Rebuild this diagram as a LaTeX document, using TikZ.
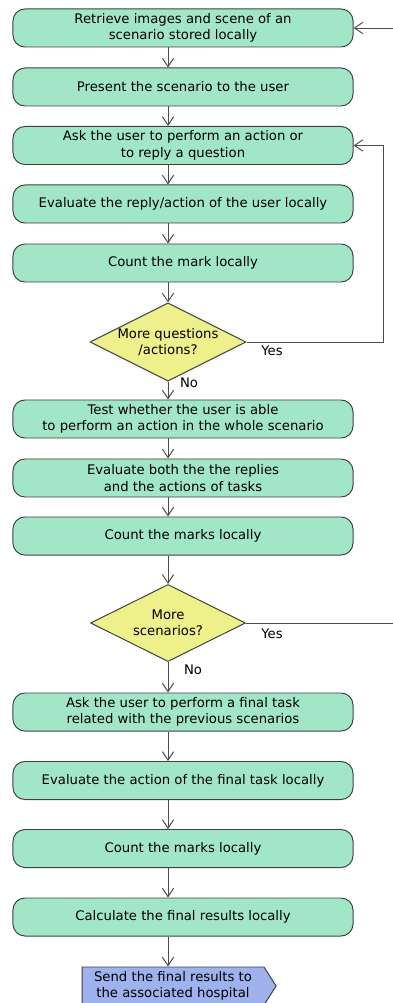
\documentclass[tikz,border=0pt]{standalone}
\usepackage{fontspec}
\setmainfont{DejaVu Sans}
\usetikzlibrary{shapes.geometric,shapes.symbols,arrows.meta}

\definecolor{activity}{RGB}{162,230,200}
\definecolor{question}{RGB}{238,240,140}
\definecolor{message}{RGB}{160,178,238}

\begin{document}
\begin{tikzpicture}[
    x=0.025cm, y=-0.025cm,
    font=\fontsize{9.4}{11.6}\selectfont,
    process/.style={rectangle, rounded corners=0.3cm, draw=black!75, fill=activity, line width=0.7pt, minimum width=8.5cm, minimum height=0.95cm, align=center, inner sep=1pt},
    decision/.style={diamond, draw=black!75, fill=question, line width=0.7pt, minimum width=3.875cm, minimum height=1.925cm, aspect=2, inner sep=0pt, align=center},
    sendbox/.style={signal, signal to=east, signal pointer angle=115, draw=black!75, fill=message, line width=0.7pt, minimum width=4.85cm, minimum height=0.95cm, align=center, inner sep=1pt},
    flow/.style={draw=black!70, line width=0.7pt, -{Straight Barb[length=6pt,width=8pt]}},
    branch/.style={inner sep=1pt}
]
\useasboundingbox (0,0) rectangle (393,1003);

% Scenario part
\node[process] (b1) at (183,28) {Retrieve images and scene of an\\scenario stored locally};
\node[process] (b2) at (183,87) {Present the scenario to the user};
\node[process] (b3) at (183,145.5) {Ask the user to perform an action or\\to reply a question};
\node[process] (b4) at (183,204) {Evaluate the reply/action of the user locally};
\node[process] (b5) at (183,263) {Count the mark locally};
\node[decision] (d1) at (168,342) {More questions\\/actions?};
\node[process] (b6) at (183,419) {Test whether the user is able\\to perform an action in the whole scenario};
\node[process] (b7) at (183,478) {Evaluate both the the replies\\and the actions of tasks};
\node[process] (b8) at (183,536) {Count the marks locally};
\node[decision] (d2) at (168,623) {More\\scenarios?};

% Final task part
\node[process] (b9) at (183,712) {Ask the user to perform a final task\\related with the previous scenarios};
\node[process] (b10) at (183,780.5) {Evaluate the action of the final task locally};
\node[process] (b11) at (183,848.5) {Count the marks locally};
\node[process] (b12) at (183,917) {Calculate the final results locally};
\node[sendbox] (send) at (173,986) {Send the final results to\\the associated hospital};

% Branch labels
\node[branch] (yes1) at (272,351) {Yes};
\node[branch] (no1) at (189,383) {No};
\node[branch] (yes2) at (272,634) {Yes};
\node[branch] (no2) at (193,670) {No};

% Loop ends
\coordinate (back1) at (383,0);
\coordinate (back2) at (400,0);

% Flow
\foreach \a/\b in {b1/b2,b2/b3,b3/b4,b4/b5}
    \draw[flow] (\a.south -| d1) -- (\b.north -| d1);
\draw[flow] (b5.south -| d1) -- (d1.north);
\draw[flow] (d1.south) -- (b6.north -| d1);
\foreach \a/\b in {b6/b7,b7/b8}
    \draw[flow] (\a.south -| d1) -- (\b.north -| d1);
\draw[flow] (b8.south -| d2) -- (d2.north);
\draw[flow] (d2.south) -- (b9.north -| d2);
\foreach \a/\b in {b9/b10,b10/b11,b11/b12,b12/send}
    \draw[flow] (\a.south -| d2) -- (\b.north -| d2);

% Loops back
\draw[flow] (d1.east) -| (b3.east -| back1) -- (b3.east);
\draw[draw=black!70, line width=0.7pt] (d2.east) -- (d2.east -| back2);
\draw[flow] (b1.east -| back2) -- (b1.east);

\end{tikzpicture}
\end{document}
